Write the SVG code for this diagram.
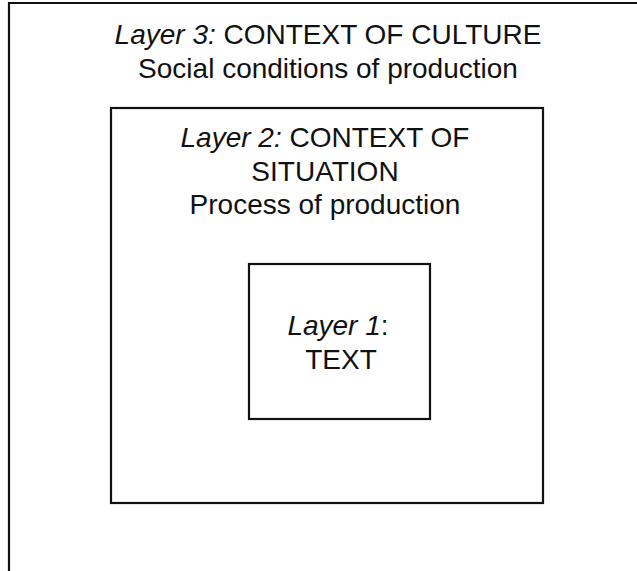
<svg xmlns="http://www.w3.org/2000/svg" width="637" height="571" viewBox="0 0 637 571">
<style>
.t{font-family:"Liberation Sans",Arial,sans-serif;font-size:28px;fill:#111;text-anchor:middle}
.i{font-style:italic}
.b{fill:none;stroke:#111;stroke-width:2.2}
</style>
<rect width="637" height="571" fill="#fff"/>
<g id="layer3">
<path class="b" d="M9,571 V3 H637"/>
<text class="t" x="328" y="44"><tspan class="i">Layer 3:</tspan> CONTEXT OF CULTURE</text>
<text class="t" x="328" y="78">Social conditions of production</text>
</g>
<g id="layer2">
<rect class="b" x="111" y="108" width="432" height="395"/>
<text class="t" x="325" y="147"><tspan class="i">Layer 2:</tspan> CONTEXT OF</text>
<text class="t" x="325" y="181">SITUATION</text>
<text class="t" x="325" y="214">Process of production</text>
</g>
<g id="layer1">
<rect class="b" x="249" y="264" width="181" height="155"/>
<text class="t" x="338" y="335"><tspan class="i">Layer 1</tspan>:</text>
<text class="t" x="341" y="369">TEXT</text>
</g>
<g id="connectors"/>
</svg>
